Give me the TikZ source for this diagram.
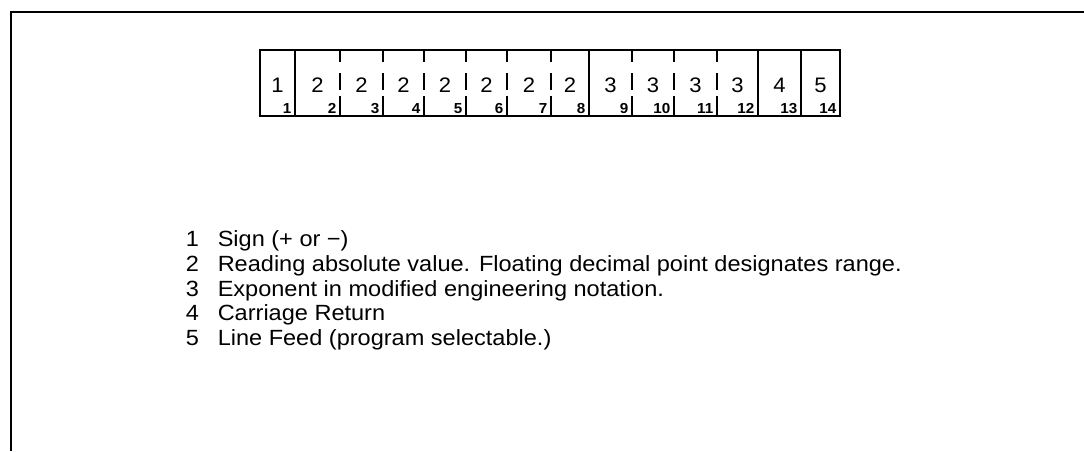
\documentclass[tikz,border=0pt]{standalone}
\usepackage{fontspec}
\usepackage{tikz}
\usetikzlibrary{arrows.meta}
\setmainfont{Liberation Sans}[FakeStretch=1.07]
\newfontfamily\cellfont{Liberation Sans}[FakeStretch=1.05]

\tikzset{
  digit/.style={font=\cellfont\fontsize{21}{21}\selectfont, inner sep=0pt, anchor=base},
  idx/.style={font=\cellfont\bfseries\fontsize{14.5}{14.5}\selectfont, inner sep=0pt, anchor=base east},
  keynum/.style={font=\fontsize{22}{24}\selectfont, inner sep=0pt, anchor=base west},
  keytext/.style={font=\fontsize{22}{24}\selectfont, inner sep=0pt, anchor=base west}
}

\begin{document}
\begin{tikzpicture}[>=Stealth, x=1pt, y=-1pt, line width=1.5pt]
\useasboundingbox (0,0) rectangle (1084,451);

\draw (10,12) -- (1084,12);
\draw (11,12) -- (11,451);

\begin{scope}
\draw[line width=1.7pt] (260,50) rectangle (840,116);
\foreach \x in {295,589,758,801}
  \draw (\x,50) -- (\x,116);
\foreach \x in {340,383,424,466,507,551,632,674,717}
  \draw (\x,50) -- (\x,62) (\x,73) -- (\x,90) (\x,96) -- (\x,116);
\foreach \l/\r/\g [count=\i] in {260/295/1,295/340/2,340/383/2,383/424/2,424/466/2,466/507/2,507/551/2,551/589/2,589/632/3,632/674/3,674/717/3,717/758/3,758/801/4,801/840/5}{
  \node[digit] (d\i) at ({(\l+\r)/2},92) {\g};
  \node[idx] (n\i) at (\r-3,113) {\i};
}
\end{scope}

\begin{scope}
\node[keynum] (k1) at (185,246) {1};
\node[keytext] (t1) at (217,246) {Sign (+ or −)};
\node[keynum] (k2) at (185,271) {2};
\node[keytext] (t2) at (217,271) {Reading absolute value. Floating decimal point designates range.};
\node[keynum] (k3) at (185,296) {3};
\node[keytext] (t3) at (217,296) {Exponent in modified engineering notation.};
\node[keynum] (k4) at (185,320) {4};
\node[keytext] (t4) at (217,320) {Carriage Return};
\node[keynum] (k5) at (185,345) {5};
\node[keytext] (t5) at (217,345) {Line Feed (program selectable.)};
\end{scope}
\end{tikzpicture}
\end{document}
